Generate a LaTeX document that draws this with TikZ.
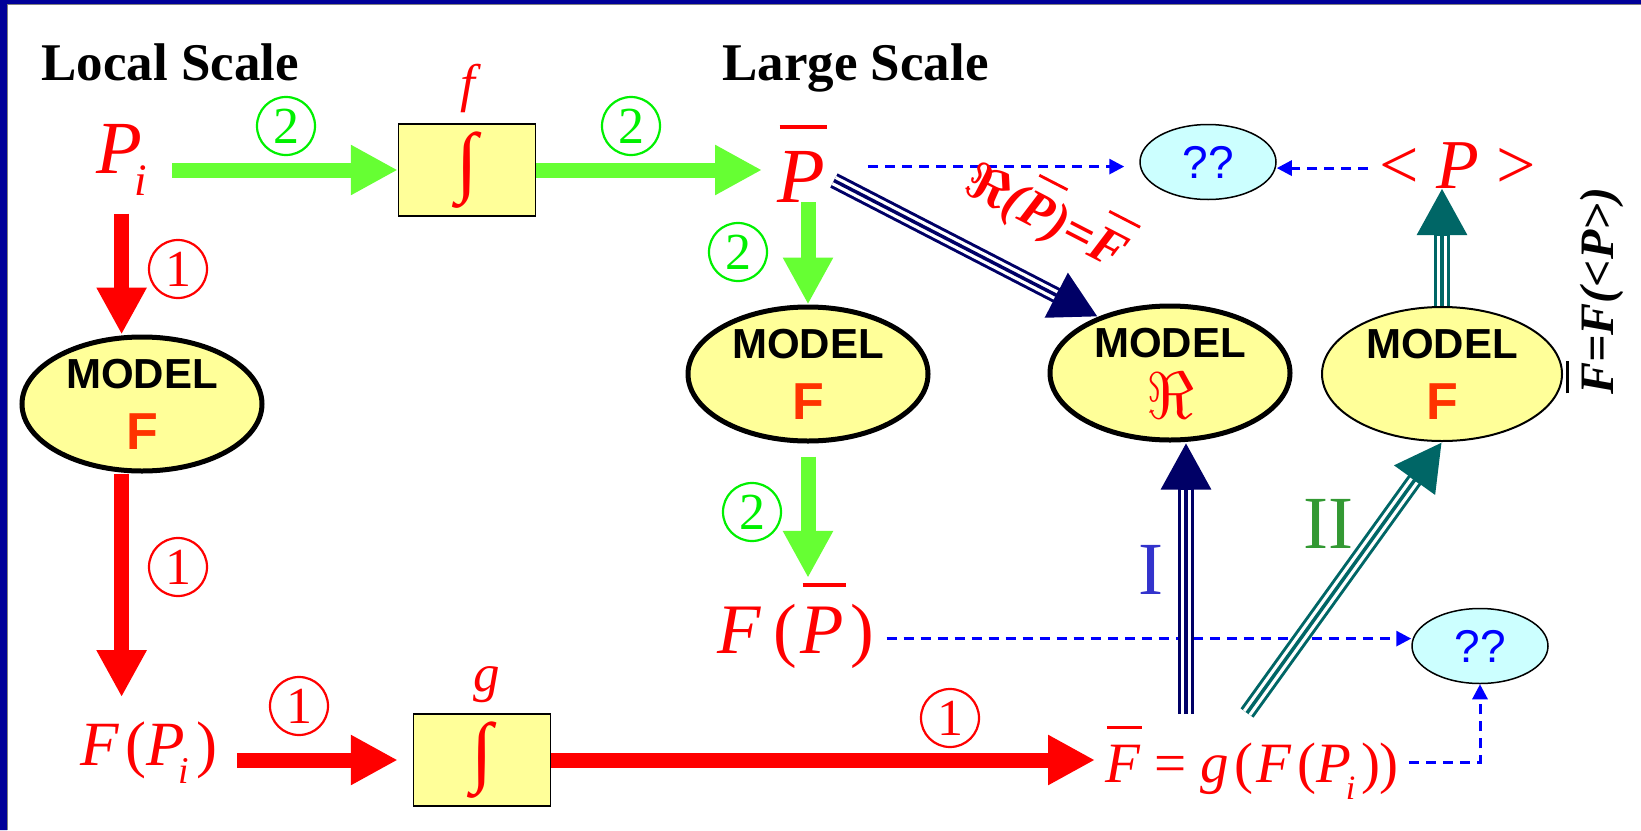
\RequirePackage{fix-cm}
\documentclass[tikz,border=0pt]{standalone}
\usepackage{fontspec}
\setmainfont{Liberation Serif}
\setsansfont{Liberation Sans}
\usepackage{graphicx}
\usetikzlibrary{arrows.meta,shapes.geometric}
\definecolor{frameblue}{HTML}{000099}
\definecolor{grn}{HTML}{66FF33}
\definecolor{numgrn}{HTML}{00F000}
\definecolor{boxyel}{HTML}{FFFF99}
\definecolor{qqcyan}{HTML}{CCFFFF}
\definecolor{navyarr}{HTML}{000066}
\definecolor{tealarr}{HTML}{006666}
\definecolor{modF}{HTML}{FF3300}
\definecolor{romI}{HTML}{3333CC}
\definecolor{romII}{HTML}{339933}
\newcommand{\bbar}[1]{\setbox0\hbox{\itshape #1}\rlap{\kern0.03em\rule[0.93em]{\wd0}{0.055em}}\box0}
\newcommand{\Pind}{\textit{P}\kern-0.1em\raisebox{-0.3em}{\scalebox{0.6}{\textit{i}}}}
\newcommand{\intsign}{\fontsize{78}{78}\selectfont ∫}
\tikzset{
  fs/.style={font=\fontsize{#1}{#1}\selectfont},
  title/.style={anchor=base west, inner sep=0pt, font=\fontsize{53}{53}\selectfont\bfseries},
  box/.style={draw, fill=boxyel, line width=1.5pt, minimum width=137pt, minimum height=92pt, inner sep=0pt, text=red},
  model/.style={ellipse, draw, fill=boxyel, line width=5pt, minimum width=240pt, minimum height=134pt,
    inner sep=0pt, align=center, font=\sffamily\bfseries\fontsize{42}{61}\selectfont},
  qq/.style={ellipse, draw, fill=qqcyan, line width=1.5pt, minimum width=136pt, minimum height=75pt,
    inner sep=0pt, text=blue, font=\sffamily\fontsize{46}{46}\selectfont},
  num/.style={circle, draw, line width=2.2pt, minimum size=58pt, inner sep=0pt, font=\fontsize{52}{52}\selectfont},
  garrow/.style={draw=grn, line width=15pt, -{Triangle[length=47pt,width=47pt]}},
  rarrow/.style={draw=red, line width=15pt, -{Triangle[length=47pt,width=47pt]}},
  dasharrow/.style={draw=blue, line width=3pt, dash pattern=on 10pt off 7pt, -{Triangle[length=15pt,width=15pt]}},
  triple/.style={draw=#1, line width=16pt, -{Triangle[length=47pt,width=47pt]},
    postaction={draw=white, line width=10pt, arrows=-, shorten >=47.5pt},
    postaction={draw=#1, line width=3.5pt, arrows=-, shorten >=47pt}},
}
\begin{document}
\begin{tikzpicture}[x=1pt,y=-1pt]
\useasboundingbox (0,0) rectangle (1641,830);
\fill[frameblue] (0,0) rectangle (7,830) (0,0) rectangle (1641,4);
\draw[gray, line width=0.8pt] (7,830) -- (7,4) -- (1641,4);

\node[title] (local) at (41,80) {Local Scale};
\node[title] (large) at (722,80) {Large Scale};

\node[red, anchor=base west, inner sep=0pt, fs=75] (Pi) at (96,173) {\Pind};
\node[box] (intf) at (467,170) {\intsign};
\node[red, anchor=base, fs=53] (flab) at (471,101) {\textit{f}};
\node[red, anchor=base west, inner sep=0pt, fs=78] (Pbar) at (777,202) {\bbar{P}};
\node[num, numgrn] (n2a) at (286,126) {2};
\node[num, numgrn] (n2b) at (631,126) {2};
\draw[garrow, shorten <=25pt] (Pi.east |- intf.west) -- (intf.west);
\draw[garrow, shorten >=15pt] (intf.east) -- (intf.east -| Pbar.west);

\node[qq] (qq1) at (1208,162) {??};
\node[red, anchor=base, inner sep=0pt, fs=70] (angP) at (1458,188) {< \textit{P} >};
\coordinate (Pr) at ([yshift=-3pt]Pbar.east);
\coordinate (angl) at ([yshift=-3pt]angP.west);
\draw[dasharrow, shorten <=43pt, shorten >=15pt] (Pr) -- (Pr -| qq1.west);
\draw[dasharrow, shorten <=11pt] (angl) -- (angl -| qq1.east);

\node[model] (modL) at (142,404) {MODEL\\{\color{modF}\fontsize{52}{61}\selectfont F}};
\node[model] (modM) at (808,374) {MODEL\\{\color{modF}\fontsize{52}{61}\selectfont F}};
\node[model] (modR) at (1170,373) {MODEL\\{\color{red}\fontsize{66}{61}\selectfont$\Re$}};
\node[model, line width=2pt] (modF2) at (1442,374) {MODEL\\{\color{modF}\fontsize{52}{61}\selectfont F}};

\node[num, red] (n1a) at (178,269) {1};
\node[num, red] (n1b) at (178,567) {1};
\node[red, anchor=base west, inner sep=0pt, fs=63] (FPi) at (80,765) {\textit{F}\kern0.1em(\Pind\kern0.12em)};
\draw[rarrow, shorten <=18pt] (Pi.south) -- (Pi.south |- modL.north);
\draw[rarrow, shorten >=24pt] (Pi.south |- modL.south) -- (Pi.south |- FPi.north);

\node[box] (intg) at (482,760) {\intsign};
\node[red, anchor=base, fs=53] (glab) at (487,691) {\textit{g}};
\node[num, red] (n1c) at (299,706) {1};
\node[num, red] (n1d) at (950,718) {1};
\node[red, anchor=base west, inner sep=0pt, fs=57] (Fbar) at (1105,782)
  {\bbar{F}\kern0.25em=\kern0.25em\textit{g}\kern0.1em(\kern0.05em\textit{F}\kern0.1em(\Pind\kern0.1em))};
\draw[rarrow, shorten <=19pt, shorten >=15pt] (FPi.east |- intg.west) -- (intg.west);
\draw[rarrow, shorten >=10pt] (intg.east) -- (intg.east -| Fbar.west);

\node[num, numgrn] (n2c) at (738,252) {2};
\node[num, numgrn] (n2d) at (752,512) {2};
\node[red, anchor=base west, inner sep=0pt, fs=71] (FPbar) at (717,653)
  {\textit{F}\kern0.17em(\kern0.05em\bbar{P}\kern0.1em)};
\draw[garrow] (modM.north |- Pbar.south) -- (modM.north);
\draw[garrow, shorten <=13pt, shorten >=5pt] (modM.south) -- (modM.south |- FPbar.north);

\node[qq] (qq2) at (1480,646) {??};
\coordinate (FPr) at ([yshift=-13pt]FPbar.east);
\draw[dasharrow, shorten <=12pt] (FPr) -- (FPr -| qq2.west);
\draw[dasharrow, shorten <=10pt] (Fbar.east) -| (qq2.south);

\draw[triple=navyarr, shorten <=10pt] (Pbar) -- (modR.142)
  node[pos=0.7, sloped, above=30pt, inner sep=0pt, red, fs=52] (rlab) {{\boldmath$\Re$}{\bfseries\itshape(\bbar{P})=\bbar{F}}};
\coordinate (Ibot) at (1186,714);
\coordinate (IIbot) at (1247,713);
\draw[triple=navyarr] (Ibot) -- (Ibot |- modR.south);
\draw[triple=tealarr] (IIbot) -- (modF2.south);
\draw[triple=tealarr] (modF2.north) -- (modF2.north |- angP.base);
\node[fs=75, text=romI] (labI) at (1151,570) {I};
\node[fs=75, text=romII] (labII) at (1328,524) {II};
\node[rotate=90, inner sep=0pt, font=\fontsize{48}{48}\selectfont\bfseries\itshape] (relF) at (1595,291) {\bbar{F}=F(<P>)};
\end{tikzpicture}
\end{document}
